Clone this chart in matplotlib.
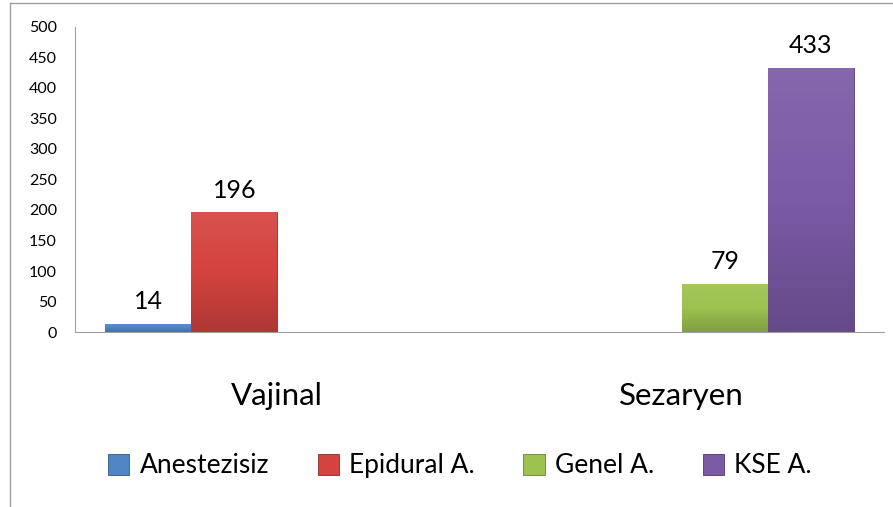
import numpy as np
import matplotlib
matplotlib.use("Agg")
import matplotlib.pyplot as plt
from matplotlib.colors import LinearSegmentedColormap, to_rgb

plt.rcParams['font.family'] = ['Lato', 'DejaVu Sans']

categories = ["Vajinal", "Sezaryen"]
series = ["Anestezisiz", "Epidural A.", "Genel A.", "KSE A."]
values = {
    "Anestezisiz": [14, 0],
    "Epidural A.": [196, 0],
    "Genel A.": [0, 79],
    "KSE A.": [0, 433],
}
colors = ["#4F86C6", "#D4433F", "#9DC24F", "#7B5AA6"]
yticks = [0, 50, 100, 150, 200, 250, 300, 350, 400, 450, 500]


def shade(c, f):
    r = np.array(to_rgb(c))
    if f > 0:
        return tuple(r + (1 - r) * f)
    return tuple(r * (1 + f))


fig = plt.figure(figsize=(8.93, 5.07), dpi=100)
ax = fig.add_axes([0.084, 0.345, 0.906, 0.602])

x = np.arange(len(categories))
w = 0.2125
for i, s in enumerate(series):
    pos = x + (i - 1.5) * w
    bars = ax.bar(pos, values[s], width=w, color=colors[i],
                  edgecolor=shade(colors[i], -0.35), linewidth=0.6, zorder=2)
    for b, v in zip(bars, values[s]):
        if v == 0:
            continue
        # vertical gradient, lighter on top
        cmap = LinearSegmentedColormap.from_list(
            "g", [shade(colors[i], -0.18), colors[i], shade(colors[i], 0.08)])
        grad = np.linspace(0, 1, 100).reshape(-1, 1)
        im = ax.imshow(grad, cmap=cmap, origin="lower", aspect="auto",
                       extent=[b.get_x(), b.get_x() + w, 0, v], zorder=2.5)
        im.set_clip_path(b)
        ax.text(b.get_x() + w / 2, v + 17, str(v), ha="center", va="bottom",
                fontsize=18, color="black")
    # legend proxy
    ax.bar([np.nan], [0], color=colors[i], edgecolor=shade(colors[i], -0.35),
           linewidth=0.6, label=s)

ax.set_xlim(-0.5, 1.5)
ax.set_ylim(0, 500)
ax.set_yticks(yticks)
ax.set_xticks(x)
ax.set_xticklabels(categories, fontsize=22.5)
ax.tick_params(axis="x", length=0, pad=36)
ax.tick_params(axis="y", length=0, pad=13, labelsize=11.5)
for sp in ["top", "right"]:
    ax.spines[sp].set_visible(False)
ax.spines["left"].set_color("#A0A0A0")
ax.spines["bottom"].set_color("#A0A0A0")

fig.legend(loc="center", bbox_to_anchor=(0.515, 0.081), ncol=4, frameon=False,
           fontsize=19, handlelength=0.8, handleheight=0.83, handletextpad=0.38,
           columnspacing=1.85)

# outer chart frame (top and left edges visible)
fig.add_artist(plt.Line2D([0.011, 1.0], [0.994, 0.994], color="#A0A0A0", lw=1))
fig.add_artist(plt.Line2D([0.011, 0.011], [0.0, 0.994], color="#A0A0A0", lw=1))

fig.savefig("out.png", dpi=100)
